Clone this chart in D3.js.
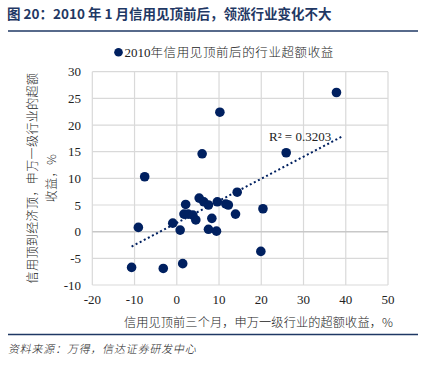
<!DOCTYPE html>
<html><head><meta charset="utf-8">
<script src="https://cdn.jsdelivr.net/npm/d3@7/dist/d3.min.js"></script>
<style>
body{margin:0;background:#fff;}
svg{display:block;}
</style></head>
<body><svg id="c" width="430" height="366"></svg>
<script>
// Data: 信用见顶前三个月超额收益 (x) vs 信用顶到经济顶超额收益 (y), %
const xValues = [37.8, 10.2, 25.9, 6.0, -7.6, 14.3, 5.3, 6.4, 7.5, 9.6, 11.6, 12.2, 2.1, 20.4, 13.9, 1.7, 2.7, 3.8, 4.5, 8.3, -0.95, -9.1, 0.8, 7.5, 9.4, 19.9, 1.4, -10.7, -3.2];
const yValues = [26.1, 22.4, 14.8, 14.6, 10.3, 7.4, 6.3, 5.6, 5.0, 5.6, 5.2, 5.0, 5.1, 4.3, 3.3, 3.3, 3.3, 3.1, 2.2, 2.5, 1.6, 0.8, 0.3, 0.45, 0.1, -3.7, -6.0, -6.7, -6.9];
const xTicks = [-20, -10, 0, 10, 20, 30, 40, 50];
const yTicks = [-10, -5, 0, 5, 10, 15, 20, 25, 30];
const seriesName = "2010年信用见顶前后的行业超额收益";
const r2Label = "R² = 0.3203";
const title = "图 20：2010 年 1 月信用见顶前后，领涨行业变化不大";
const xLabel = "信用见顶前三个月，申万一级行业的超额收益，%";
const yLabelLines = ["信用顶到经济顶，申万一级行业的超额", "收益，%"];
const source = "资料来源：万得，信达证券研发中心";

const navy = "#002060";
const serif = "'Liberation Serif','Times New Roman',serif";
const cjk = "'Noto Sans CJK SC','Noto Sans',sans-serif";

const svg = d3.select("#c");
const x = d3.scaleLinear().domain([-20, 50]).range([92.3, 388]);
const y = d3.scaleLinear().domain([-10, 30]).range([285, 71.7]);

// Title
svg.append("text").attr("x", 7).attr("y", 19)
  .attr("font-family", "'Noto Sans CJK SC','Liberation Sans',sans-serif")
  .attr("font-weight", "bold").attr("font-size", 13.5).attr("fill", "#1f3864")
  .text(title);
svg.append("line").attr("x1", 8).attr("x2", 418).attr("y1", 31).attr("y2", 31)
  .attr("stroke", "#1f3864").attr("stroke-width", 1.5);

// Grid
const g = svg.append("g");
g.selectAll("line.v").data(xTicks).join("line")
  .attr("x1", d => x(d)).attr("x2", d => x(d)).attr("y1", y(30)).attr("y2", y(-10))
  .attr("stroke", "#d9d9d9").attr("stroke-width", 1.2);
g.selectAll("line.h").data(yTicks).join("line")
  .attr("y1", d => y(d)).attr("y2", d => y(d)).attr("x1", x(-20)).attr("x2", x(50))
  .attr("stroke", d => d === 0 ? "#c8c8c8" : "#d9d9d9").attr("stroke-width", d => d === 0 ? 1.6 : 1.2);

// Axes tick labels
svg.selectAll("text.xt").data(xTicks).join("text")
  .attr("x", d => x(d)).attr("y", 304).attr("text-anchor", "middle")
  .attr("font-family", serif).attr("font-size", 13).attr("fill", "#222")
  .text(d => d);
svg.selectAll("text.yt").data(yTicks).join("text")
  .attr("x", 81).attr("y", d => y(d) + 4.5).attr("text-anchor", "end")
  .attr("font-family", serif).attr("font-size", 13).attr("fill", "#222")
  .text(d => d);

// Axis titles
svg.append("text").attr("x", 393).attr("y", 327).attr("text-anchor", "end")
  .attr("font-family", cjk).attr("font-size", 12.2).attr("font-weight", 300).attr("fill", "#222")
  .attr("letter-spacing", 0.1)
  .text(xLabel);
yLabelLines.forEach((t, i) => {
  svg.append("text")
    .attr("transform", `translate(${37 + i * 19},178) rotate(-90)`)
    .attr("text-anchor", "middle")
    .attr("font-family", cjk).attr("font-size", 12).attr("font-weight", 300).attr("fill", "#222")
    .attr("letter-spacing", 0.4)
    .text(t);
});

// Trendline (least squares)
const n = xValues.length;
const mx = d3.mean(xValues), my = d3.mean(yValues);
let sxy = 0, sxx = 0;
for (let i = 0; i < n; i++) { sxy += (xValues[i] - mx) * (yValues[i] - my); sxx += (xValues[i] - mx) ** 2; }
const slope = sxy / sxx, icpt = my - slope * mx;
const forward = 1.6;
const tx0 = d3.min(xValues), tx1 = d3.max(xValues) + forward;
svg.append("line")
  .attr("x1", x(tx0)).attr("y1", y(icpt + slope * tx0))
  .attr("x2", x(tx1)).attr("y2", y(icpt + slope * tx1))
  .attr("stroke", navy).attr("stroke-width", 2).attr("stroke-dasharray", "2,2.6");

// Points
svg.selectAll("circle.p").data(d3.range(n)).join("circle")
  .attr("cx", i => x(xValues[i])).attr("cy", i => y(yValues[i])).attr("r", 4.8)
  .attr("fill", navy);

// R² label
svg.append("text").attr("x", 269).attr("y", 140.5)
  .attr("font-family", serif).attr("font-size", 13).attr("fill", "#222")
  .text(r2Label);

// Legend
svg.append("circle").attr("cx", 118.5).attr("cy", 52.3).attr("r", 4.3).attr("fill", navy);
svg.append("text").attr("x", 124.5).attr("y", 57)
  .attr("font-family", serif).attr("font-size", 13).attr("fill", "#222")
  .text("2010").append("tspan").attr("font-family", cjk).attr("font-weight", 300).attr("font-size", 12.5)
  .attr("letter-spacing", 0.6)
  .text(seriesName.slice(4));

// Bottom rule and source
svg.append("line").attr("x1", 8).attr("x2", 418).attr("y1", 334.5).attr("y2", 334.5)
  .attr("stroke", "#1f3864").attr("stroke-width", 1.5);
svg.append("g").attr("transform", "translate(8,353) skewX(-12)")
  .append("text").attr("x", 0).attr("y", 0)
  .attr("font-family", cjk).attr("font-size", 11).attr("font-weight", 300).attr("fill", "#222")
  .attr("letter-spacing", 0.8)
  .text(source);
</script></body></html>
